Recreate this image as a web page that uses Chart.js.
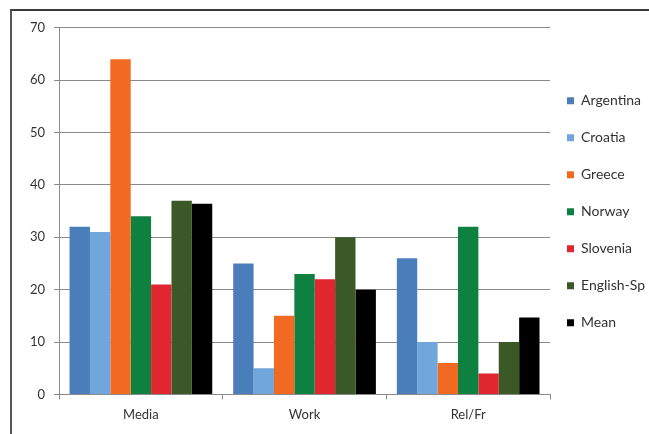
<!DOCTYPE html>
<html>
<head>
<meta charset="utf-8">
<script src="https://cdn.jsdelivr.net/npm/chart.js@4"></script>
<style>
	html, body { margin: 0; padding: 0; background: #fff; }
	#frame {
		position: absolute; left: 10px; top: 9px;
		width: 639px; height: 425px;
		box-sizing: border-box;
		border-top: 2px solid #3c3c3c;
		border-left: 2px solid #555;
	}
	#wrap { position: absolute; left: 0; top: 0; width: 637px; height: 423px; }
</style>
</head>
<body>
<div id="frame"><div id="wrap"><canvas id="chart" width="637" height="423"></canvas></div></div>
<script>
const categories = ["Media", "Work", "Rel/Fr"]
const argentina = [32, 25, 26]
const croatia = [31, 5, 10]
const greece = [64, 15, 6]
const norway = [34, 23, 32]
const slovenia = [21, 22, 4]
const englishSp = [37, 30, 10]
const mean = [36.4, 20, 14.7]
const yMin = 0
const yMax = 70
const yStep = 10

const seriesNames = ["Argentina", "Croatia", "Greece", "Norway", "Slovenia", "English-Sp", "Mean"]
const seriesData = [argentina, croatia, greece, norway, slovenia, englishSp, mean]
const seriesColors = ["#4a7ebb", "#70a6dc", "#f26a21", "#0e8140", "#e0262f", "#3b5927", "#000000"]

// legend sits tight against the plot, like the spreadsheet original
const legendWidth = {
	id: "legendWidth",
	afterInit(chart) {
		if (!chart.legend) {return}
		const fit = chart.legend.fit
		chart.legend.fit = function () {
			fit.call(this)
			this.width = 99
		}
	}
}

const ctx = document.getElementById("chart").getContext("2d")
new Chart(ctx, {
	type: "bar",
	data: {
		labels: categories,
		datasets: seriesNames.map((name, i) => ({
			label: name,
			data: seriesData[i],
			backgroundColor: seriesColors[i],
			borderWidth: 0,
			categoryPercentage: 0.872,
			barPercentage: 1.0,
		})),
	},
	options: {
		responsive: false,
		animation: false,
		devicePixelRatio: 1,
		layout: {
			padding: { left: 9, right: 0, top: 15, bottom: 3 },
		},
		scales: {
			x: {
				grid: {
					drawOnChartArea: false,
					drawTicks: true,
					tickLength: 5,
					color: "#8a8a8a",
					offset: true,
				},
				border: { display: true, color: "#8a8a8a", width: 1 },
				ticks: {
					padding: 8,
					color: "#333",
					font: { family: "Lato", size: 13 },
				},
			},
			y: {
				min: yMin,
				max: yMax,
				grid: {
					color: "#8a8a8a",
					tickLength: 5,
				},
				border: { display: true, color: "#8a8a8a", width: 1 },
				ticks: {
					stepSize: yStep,
					padding: 9,
					color: "#333",
					font: { family: "Lato", size: 13 },
				},
			},
		},
		plugins: {
			legend: {
				position: "right",
				fullSize: false,
				align: "center",
				title: { display: true, text: "", font: { size: 1 }, padding: { top: 6, bottom: 0 } },
				labels: {
					boxWidth: 7,
					boxHeight: 7,
					padding: 17,
					color: "#333",
					font: { family: "Lato", size: 14, lineHeight: 20 / 14 },
					generateLabels(chart) {
						return Chart.defaults.plugins.legend.labels.generateLabels(chart)
							.map(item => ({ ...item, text: [item.text] }))
					},
				},
			},
			tooltip: { enabled: false },
		},
	},
	plugins: [legendWidth],
});
</script>
</body>
</html>
